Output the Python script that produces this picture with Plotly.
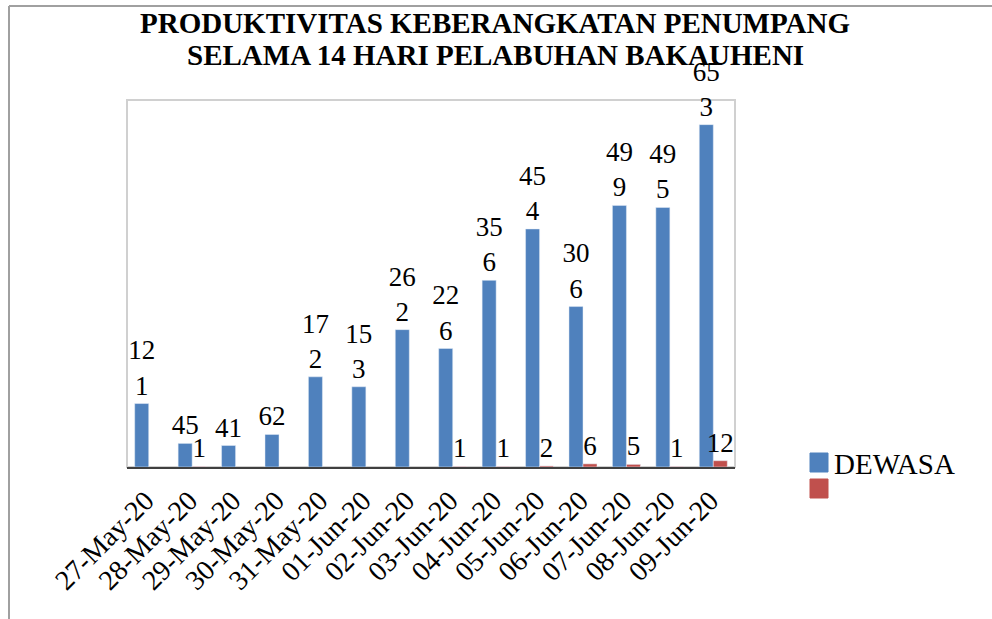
import plotly.graph_objects as go

dates = ["27-May-20", "28-May-20", "29-May-20", "30-May-20", "31-May-20", "01-Jun-20", "02-Jun-20",
         "03-Jun-20", "04-Jun-20", "05-Jun-20", "06-Jun-20", "07-Jun-20", "08-Jun-20", "09-Jun-20"]
dewasa = [121, 45, 41, 62, 172, 153, 262, 226, 356, 454, 306, 499, 495, 653]
dewasa_labels = ["12<br>1", "45", "41", "62", "17<br>2", "15<br>3", "26<br>2", "22<br>6",
                 "35<br>6", "45<br>4", "30<br>6", "49<br>9", "49<br>5", "65<br>3"]
second = [None, 1, None, None, None, None, None, 1, 1, 2, 6, 5, 1, 12]
title_lines = ["PRODUKTIVITAS KEBERANGKATAN PENUMPANG", "SELAMA 14 HARI PELABUHAN BAKAUHENI"]
legend_names = ["DEWASA", ""]

BLUE, RED = "#4F81BD", "#C0504D"
FONT = "Times New Roman, Liberation Serif, DejaVu Serif, serif"

# plot-area pixel geometry
W, H = 992, 619
L, R, T, B = 127, 735, 100, 467
pw, ph = R - L, B - T

def px(x):
    return (x - L) / pw

def py(y):
    return (B - y) / ph

fig = go.Figure()
fig.add_trace(go.Bar(
    x=dates, y=dewasa, name=legend_names[0], marker_color=BLUE,
    text=dewasa_labels, textposition="outside", constraintext="none",
    textfont=dict(family=FONT, size=27, color="#000000"), cliponaxis=False,
))
fig.add_trace(go.Bar(
    x=dates, y=second, name=legend_names[1], marker_color=RED,
    text=[str(v) if v is not None else "" for v in second], textposition="outside",
    constraintext="none",
    textfont=dict(family=FONT, size=27, color="#000000"), cliponaxis=False,
))

fig.update_layout(
    width=W, height=H,
    margin=dict(l=L, r=W - R, t=T, b=H - B),
    paper_bgcolor="white", plot_bgcolor="white",
    barmode="group", bargap=0.355, bargroupgap=0,
    font=dict(family=FONT, color="#000000"),
    xaxis=dict(
        showline=True, linecolor="#404040", linewidth=2, ticks="", showgrid=False,
        tickangle=-45, tickfont=dict(family=FONT, size=28, color="#000000"),
        ticklabelstandoff=4, ticklabelshift=-3,
    ),
    yaxis=dict(range=[0, 700], showticklabels=False, showgrid=False, zeroline=False,
               showline=False, ticks=""),
    showlegend=False,
)

# title, two centred lines
for i, line in enumerate(title_lines):
    fig.add_annotation(
        text="<b>" + line + "</b>",
        xref="paper", yref="paper", x=px(495), y=py(22.5 + 32.5 * i),
        xanchor="center", yanchor="middle", showarrow=False,
        font=dict(family=FONT, size=29, color="#000000"),
    )

# legend (drawn as swatches + text)
for i, (name, col) in enumerate(zip(legend_names, [BLUE, RED])):
    y0 = 453 + 26 * i
    fig.add_shape(type="rect", xref="paper", yref="paper",
                  x0=px(810), x1=px(828), y0=py(y0 + 19), y1=py(y0),
                  fillcolor=col, line=dict(color=col, width=1))
    if name:
        fig.add_annotation(
            text=name, xref="paper", yref="paper", x=px(832), y=py(y0 + 10.5),
            xanchor="left", yanchor="middle", showarrow=False,
            font=dict(family=FONT, size=29, color="#000000"),
        )

# light gray plot-area border
fig.add_shape(type="rect", xref="paper", yref="paper", x0=0, y0=0, x1=1, y1=1,
              line=dict(color="#D0D0D0", width=2), layer="below")
# outer page frame (top and left edges)
fig.add_shape(type="line", xref="paper", yref="paper", x0=px(9), y0=py(6), x1=px(W + 5), y1=py(6),
              line=dict(color="#A0A0A0", width=2))
fig.add_shape(type="line", xref="paper", yref="paper", x0=px(9), y0=py(6), x1=px(9), y1=py(H + 5),
              line=dict(color="#A0A0A0", width=2))

fig.write_html("out.html", config={"displayModeBar": False},
               post_script="document.body.style.margin='0px';document.body.style.overflow='hidden';")
